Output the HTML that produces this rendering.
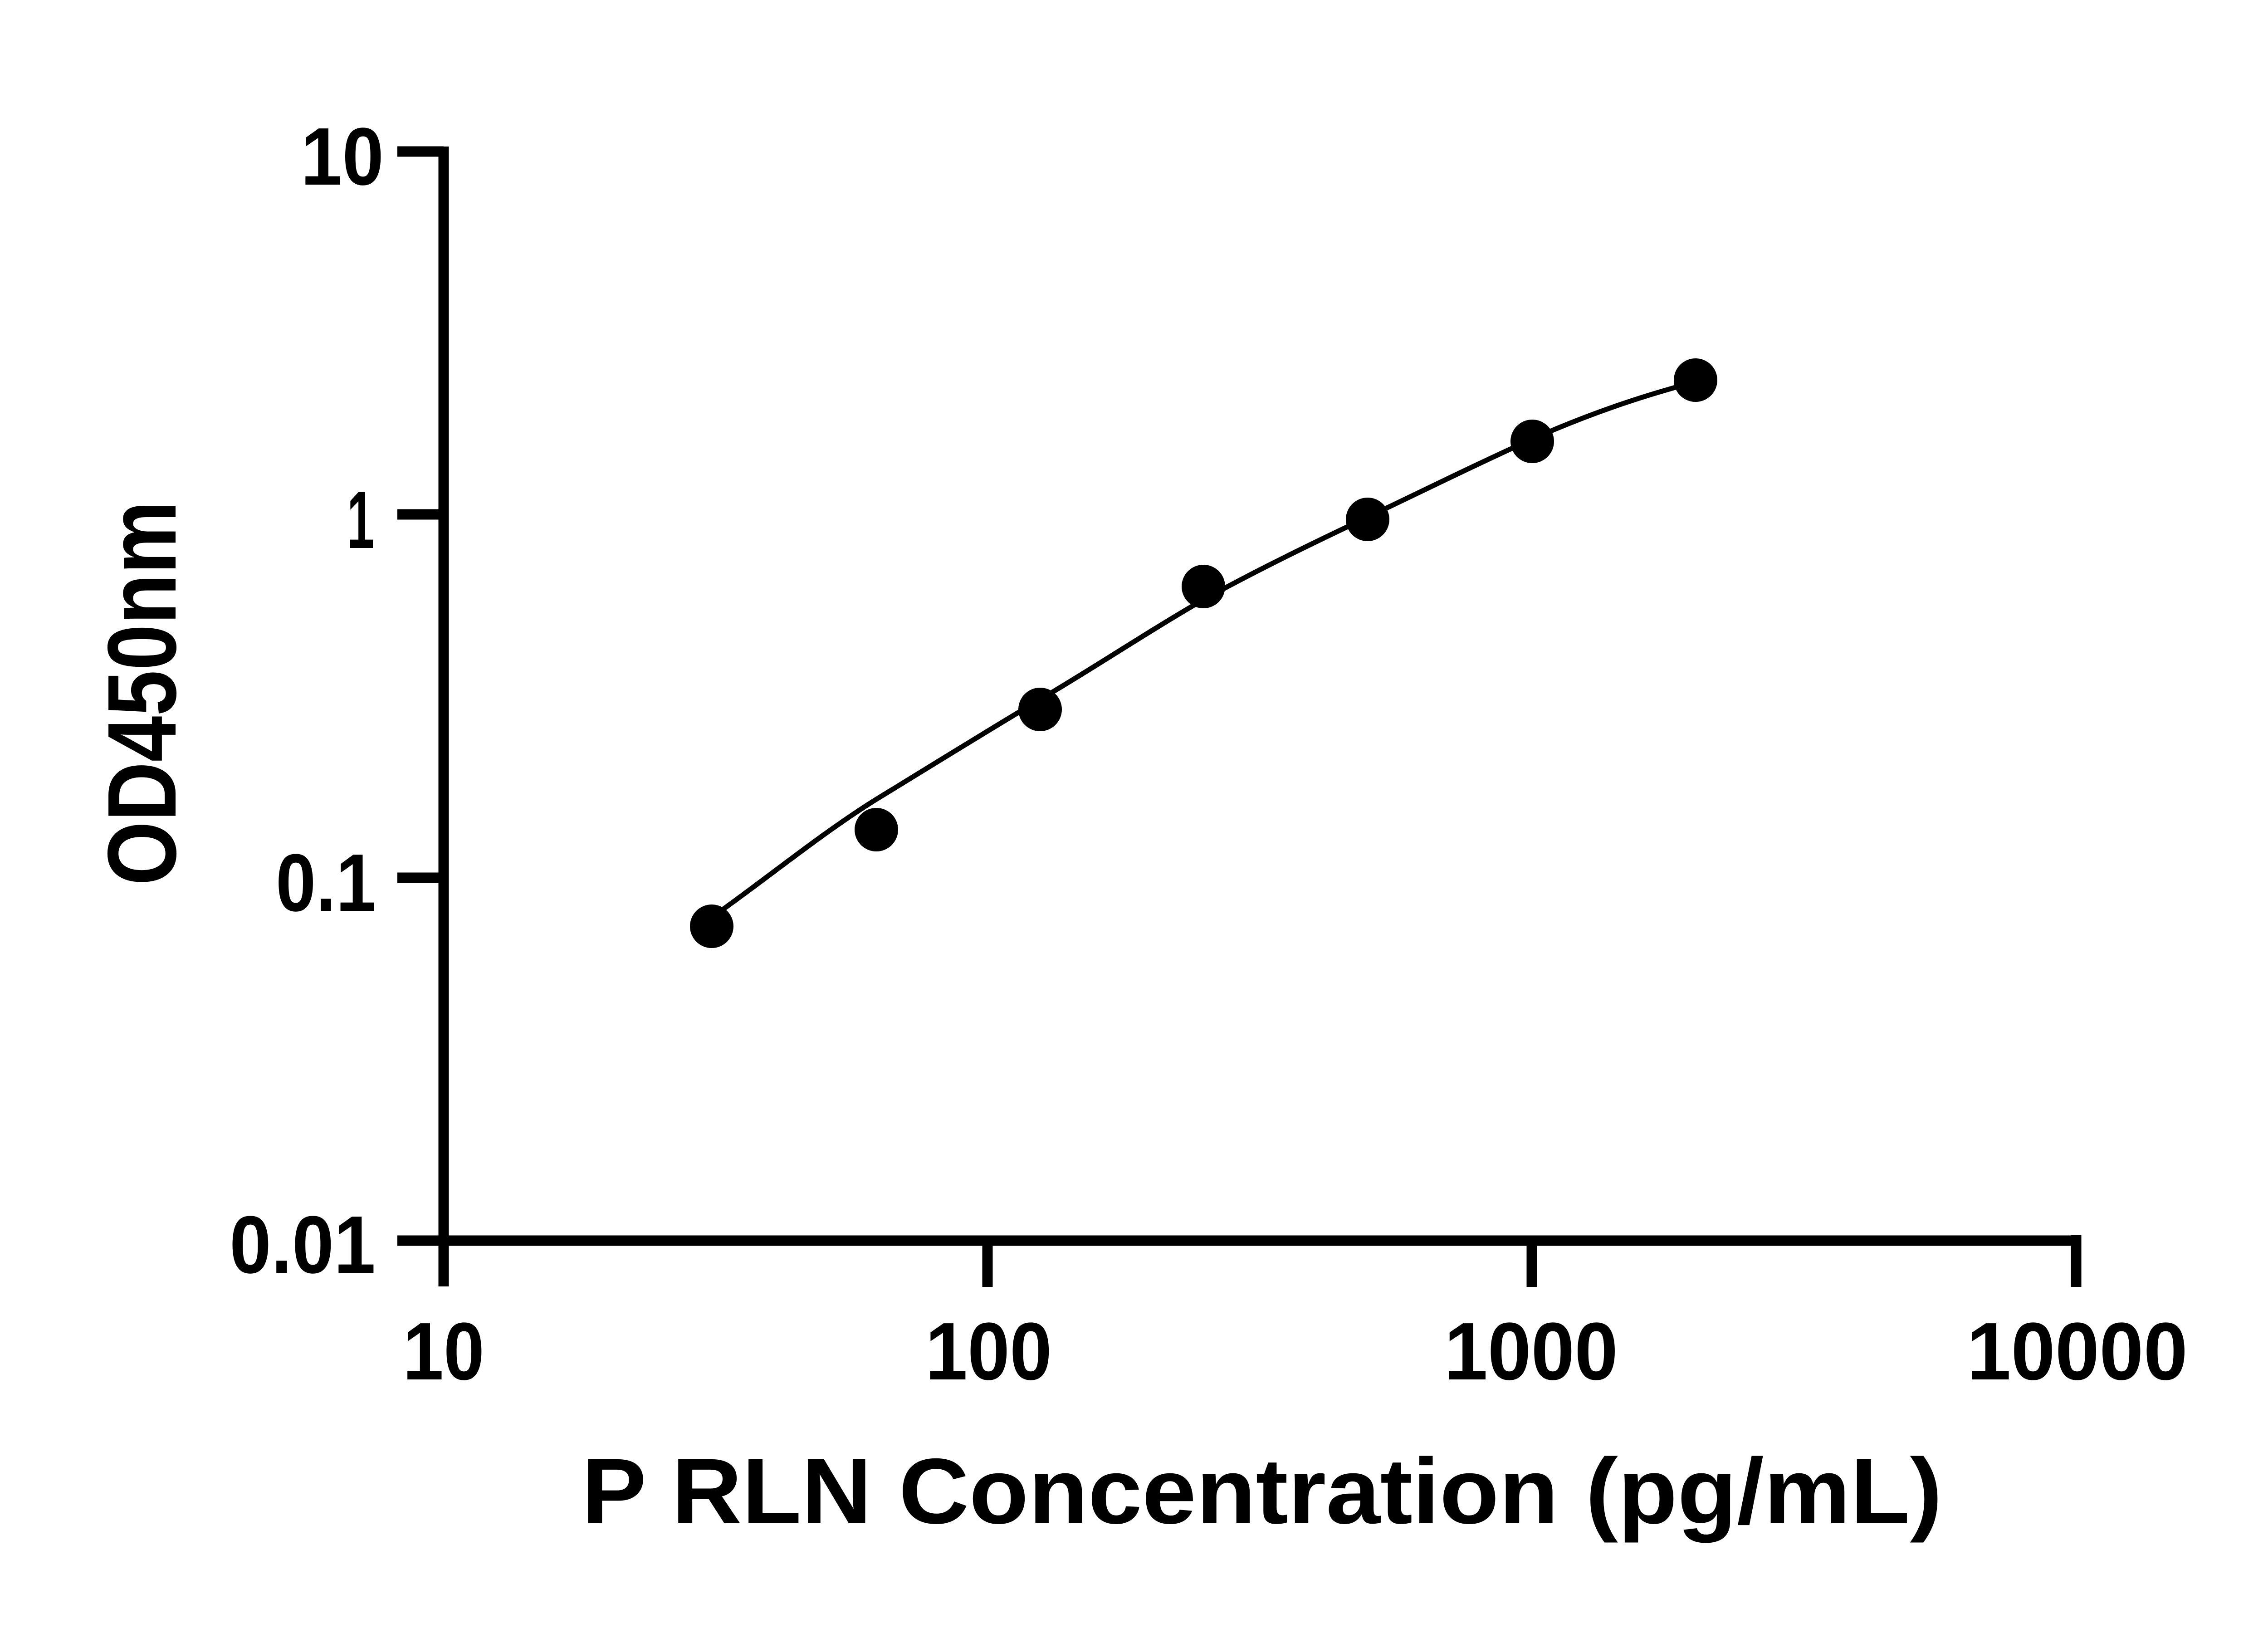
<!DOCTYPE html>
<html><head><style>html,body{margin:0;padding:0;background:#fff}svg{display:block}</style></head>
<body>
<svg width="5130" height="3600" viewBox="0 0 5130 3600" xmlns="http://www.w3.org/2000/svg" font-family="Liberation Sans, sans-serif" font-weight="bold">
<rect width="5130" height="3600" fill="#fff"/>
<g stroke="#000" stroke-width="23" fill="none">
<line x1="978" y1="323" x2="978" y2="2836"/>
<line x1="966" y1="2735" x2="4585" y2="2735"/>
<line x1="876" y1="334" x2="978" y2="334"/>
<line x1="876" y1="1134" x2="978" y2="1134"/>
<line x1="876" y1="1935" x2="978" y2="1935"/>
<line x1="876" y1="2735" x2="978" y2="2735"/>
<line x1="2177" y1="2735" x2="2177" y2="2837"/>
<line x1="3377" y1="2735" x2="3377" y2="2837"/>
<line x1="4577" y1="2723" x2="4577" y2="2837"/>
</g>
<g font-size="180" fill="#000">
<text x="663" y="407" textLength="183" lengthAdjust="spacingAndGlyphs">10</text>
<text x="765" y="1208" textLength="60" lengthAdjust="spacingAndGlyphs">1</text>
<text x="608" y="2008" textLength="221" lengthAdjust="spacingAndGlyphs">0.1</text>
<text x="506" y="2806" textLength="322" lengthAdjust="spacingAndGlyphs">0.01</text>
<text x="888" y="3041" textLength="180" lengthAdjust="spacingAndGlyphs">10</text>
<text x="2040" y="3041" textLength="279" lengthAdjust="spacingAndGlyphs">100</text>
<text x="3184" y="3041" textLength="383" lengthAdjust="spacingAndGlyphs">1000</text>
<text x="4336" y="3041" textLength="487" lengthAdjust="spacingAndGlyphs">10000</text>
</g>
<text x="1282" y="3358" font-size="205" textLength="3000" lengthAdjust="spacingAndGlyphs">P RLN Concentration (pg/mL)</text>
<text transform="translate(387,1952) rotate(-90)" x="0" y="0" font-size="215" textLength="848" lengthAdjust="spacingAndGlyphs">OD450nm</text>
<path d="M1592,2006 C1705,1925 1815,1835 1932,1762 C2050,1690 2175,1612 2293,1542 C2415,1470 2535,1390 2653,1322 C2775,1255 2895,1197 3015,1140 C3135,1083 3258,1022 3378,968 C3490,918 3600,880 3697,853" stroke="#000" stroke-width="11" fill="none"/>
<g fill="#000">
<circle cx="1569" cy="2042" r="48"/>
<circle cx="1932" cy="1829" r="48"/>
<circle cx="2293" cy="1564" r="48"/>
<circle cx="2653" cy="1293" r="48"/>
<circle cx="3015" cy="1145" r="48"/>
<circle cx="3378" cy="973" r="48"/>
<circle cx="3738" cy="838" r="48"/>
</g>
</svg>
</body></html>
